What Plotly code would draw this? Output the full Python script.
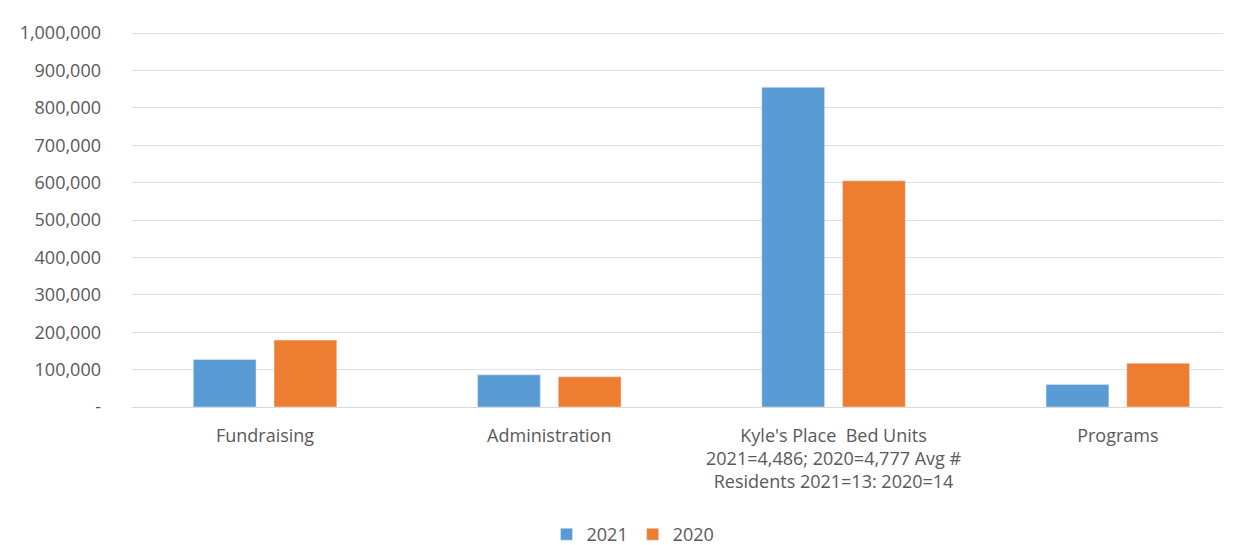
import plotly.graph_objects as go

categories = [
    "Fundraising",
    "Administration",
    "Kyle's Place  Bed Units<br>2021=4,486; 2020=4,777 Avg #<br>Residents 2021=13: 2020=14",
    "Programs",
]
values_2021 = [127000, 86000, 855000, 60000]
values_2020 = [179000, 81000, 605000, 117000]
y_tickvals = [0, 100000, 200000, 300000, 400000, 500000, 600000, 700000, 800000, 900000, 1000000]
y_ticktext = ["-", "100,000", "200,000", "300,000", "400,000", "500,000", "600,000",
              "700,000", "800,000", "900,000", "1,000,000"]

BLUE = "#5B9BD5"
ORANGE = "#ED7D31"
GRAY = "#595959"
FONT = "Open Sans, Liberation Sans, sans-serif"

fig = go.Figure()
fig.add_trace(go.Bar(name="2021", x=list(range(len(categories))), y=values_2021, marker_color=BLUE))
fig.add_trace(go.Bar(name="2020", x=list(range(len(categories))), y=values_2020, marker_color=ORANGE))

fig.update_layout(
    width=1250, height=545,
    margin=dict(l=119, r=35, t=13, b=146),
    paper_bgcolor="white", plot_bgcolor="white",
    barmode="group", bargap=0.432, bargroupgap=0.222,
    font=dict(family=FONT, size=18, color=GRAY),
    showlegend=True,
    legend=dict(orientation="h", x=0.5, xanchor="center", xref="container",
                y=0.0, yanchor="bottom", yref="container",
                font=dict(size=18, color=GRAY),
                traceorder="normal"),
    xaxis=dict(
        tickmode="array", tickvals=list(range(len(categories))), ticktext=categories,
        range=[-0.468, 3.37], showgrid=False, zeroline=False,
        showline=True, linecolor="#D9D9D9", linewidth=1,
        ticks="", ticklabelstandoff=12,
        tickfont=dict(family=FONT, size=18, color=GRAY),
    ),
    yaxis=dict(
        range=[0, 1003000], tickmode="array", tickvals=y_tickvals, ticktext=y_ticktext,
        showgrid=True, gridcolor="#E0E0E0", gridwidth=1,
        zeroline=False, showline=False, ticks="", ticklabelstandoff=30,
        tickfont=dict(family=FONT, size=18, color=GRAY),
    ),
)

fig.write_html("out.html")
